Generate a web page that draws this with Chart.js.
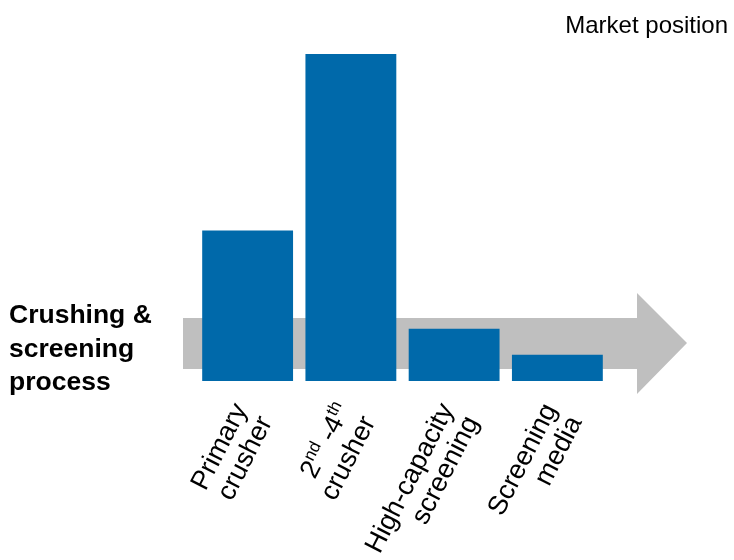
<!DOCTYPE html>
<html>
<head>
<meta charset="utf-8">
<script src="https://cdn.jsdelivr.net/npm/chart.js@4.4.0/dist/chart.umd.min.js"></script>
<style>
  body { margin: 0; background: #fff; }
  #wrap { position: relative; width: 734px; height: 560px; }
</style>
</head>
<body>
<div id="wrap"><canvas id="GraficoMercado" width="734" height="560"></canvas></div>
<script>
/* dados do gráfico */
var categorias = ['Primary crusher', '2nd -4th crusher', 'High-capacity screening', 'Screening media'];
// rótulos em linhas; ^...^ marca sobrescrito
var rotulos = [
    ['Primary', 'crusher'],
    ['2^nd^ -4^th^', 'crusher'],
    ['High-capacity', 'screening'],
    ['Screening', 'media']
];
var posicaoMercado = [46, 100, 16, 8];

var corBarra = '#0069AA';
var corSeta = '#BFBFBF';
var fonte = '"Liberation Sans", Arial, Helvetica, sans-serif';

/* seta cinza atrás das barras */
var setaPlugin = {
    id: 'seta',
    beforeDatasetsDraw: function (chart) {
        var ctx = chart.ctx;
        ctx.save();
        ctx.fillStyle = corSeta;
        ctx.beginPath();
        ctx.moveTo(183, 318);
        ctx.lineTo(637, 318);
        ctx.lineTo(637, 293);
        ctx.lineTo(687, 343);
        ctx.lineTo(637, 394);
        ctx.lineTo(637, 369);
        ctx.lineTo(183, 369);
        ctx.closePath();
        ctx.fill();
        ctx.restore();
    }
};

/* textos: rótulos rotacionados e títulos */
function partes(linha) {
    var p = linha.split('^');
    return p.map(function (t, i) { return { t: t, sup: i % 2 === 1 }; });
}

var textosPlugin = {
    id: 'textos',
    afterDraw: function (chart) {
        var ctx = chart.ctx;
        var x = chart.scales.x;
        ctx.save();
        ctx.fillStyle = '#000';

        // títulos
        ctx.textBaseline = 'alphabetic';
        ctx.font = '24px ' + fonte;
        ctx.textAlign = 'right';
        ctx.fillText('Market position', 728, 33);

        ctx.font = 'bold 26.5px ' + fonte;
        ctx.textAlign = 'left';
        ctx.fillText('Crushing &', 9, 323);
        ctx.fillText('screening', 9, 357);
        ctx.fillText('process', 9, 390);

        // rótulos do eixo x
        var tam = 27;
        var ang = -63 * Math.PI / 180;
        rotulos.forEach(function (linhas, i) {
            var px = x.getPixelForValue(i);
            ctx.save();
            ctx.translate(px, 409);
            ctx.rotate(ang);
            linhas.forEach(function (linha, j) {
                var segs = partes(linha);
                var larg = 0;
                segs.forEach(function (s) {
                    ctx.font = (s.sup ? Math.round(tam * 0.62) : tam) + 'px ' + fonte;
                    s.w = ctx.measureText(s.t).width;
                    larg += s.w;
                });
                var cx = -larg;
                var cy = j * 28;
                ctx.textAlign = 'left';
                segs.forEach(function (s) {
                    ctx.font = (s.sup ? Math.round(tam * 0.62) : tam) + 'px ' + fonte;
                    ctx.fillText(s.t, cx, s.sup ? cy - 10 : cy);
                    cx += s.w;
                });
            });
            ctx.restore();
        });
        ctx.restore();
    }
};

var ctx = document.getElementById('GraficoMercado').getContext('2d');
var grafico = new Chart(ctx, {
    type: 'bar',
    data: {
        labels: categorias,
        datasets: [{
            label: 'Market position',
            backgroundColor: corBarra,
            borderWidth: 0,
            data: posicaoMercado,
            categoryPercentage: 1,
            barPercentage: 0.88
        }]
    },
    options: {
        responsive: false,
        animation: false,
        layout: {
            padding: { left: 196, right: 125, top: 54, bottom: 179 }
        },
        scales: {
            x: { display: false },
            y: { display: false, min: 0, max: 100 }
        },
        plugins: {
            legend: { display: false },
            tooltip: { enabled: false },
            title: { display: false }
        }
    },
    plugins: [setaPlugin, textosPlugin]
});
</script>
</body>
</html>
